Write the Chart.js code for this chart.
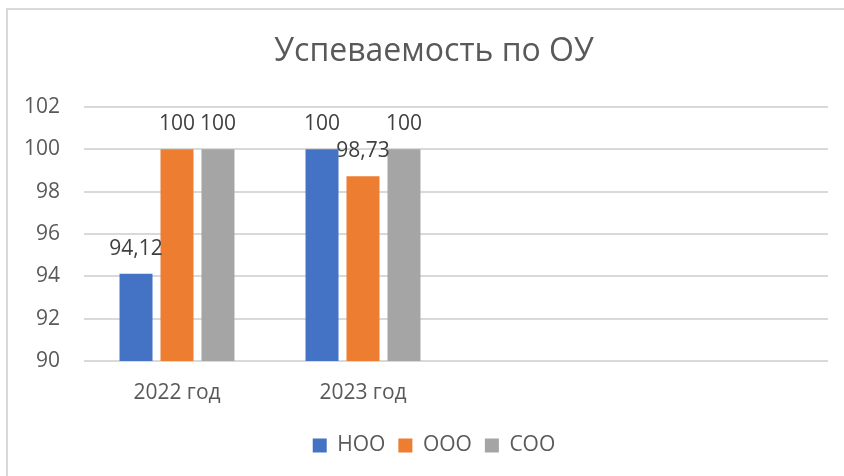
<!DOCTYPE html>
<html>
<head>
<meta charset="utf-8">
<script src="https://cdn.jsdelivr.net/npm/chart.js@4"></script>
<style>
  html, body { margin: 0; padding: 0; background: #fff; }
  #frame { position: absolute; left: 6px; top: 8px; width: 900px; height: 500px; border: 2px solid #d9d9d9; }
  #wrap { position: absolute; left: 0; top: 0; width: 844px; height: 476px; }
</style>
</head>
<body>
<div id="frame"></div>
<div id="wrap"><canvas id="myChart"></canvas></div>
<script>
// data
const categories = ['2022 год', '2023 год', '', ''];
const nooValues = [94.12, 100, null, null];
const oooValues = [100, 98.73, null, null];
const sooValues = [100, 100, null, null];
const yTicks = [90, 92, 94, 96, 98, 100, 102];

const FONT = "'Open Sans', sans-serif";

// value labels above each bar, excel style with decimal comma
const valueLabels = {
    id: 'valueLabels',
    afterDatasetsDraw(chart) {
        const ctx = chart.ctx;
        ctx.save();
        ctx.font = '21px ' + FONT;
        ctx.fillStyle = '#404040';
        ctx.textAlign = 'center';
        ctx.textBaseline = 'middle';
        chart.data.datasets.forEach((ds, i) => {
            chart.getDatasetMeta(i).data.forEach((bar, j) => {
                const v = ds.data[j];
                if (v === null || v === undefined) return;
                ctx.fillText(String(v).replace('.', ','), bar.x, bar.y - 25);
            });
        });
        ctx.restore();
    }
};

const ctx = document.getElementById('myChart');

new Chart(ctx, {
    type: 'bar',
    data: {
        labels: categories,
        datasets: [
            { label: 'НОО', data: nooValues, backgroundColor: '#4472C4' },
            { label: 'ООО', data: oooValues, backgroundColor: '#ED7D31' },
            { label: 'СОО', data: sooValues, backgroundColor: '#A5A5A5' }
        ]
    },
    options: {
        responsive: true,
        maintainAspectRatio: false,
        animation: false,
        categoryPercentage: 0.661,
        barPercentage: 0.805,
        layout: { padding: { top: 0, left: 40, right: 16, bottom: 10 } },
        plugins: {
            tooltip: { enabled: false },
            title: {
                display: true,
                text: 'Успеваемость по ОУ',
                color: '#595959',
                font: { family: FONT, size: 32, weight: 'normal' },
                padding: { top: 33, bottom: 35.6 }
            },
            legend: {
                display: true,
                position: 'bottom',
                labels: {
                    color: '#595959',
                    font: { family: FONT, size: 21 },
                    boxWidth: 14,
                    boxHeight: 14,
                    padding: 13
                }
            }
        },
        scales: {
            x: {
                grid: { display: false },
                border: { display: false },
                ticks: { color: '#595959', font: { family: FONT, size: 21 }, padding: 11, maxRotation: 0 },
                afterFit: axis => { axis.height = 61; }
            },
            y: {
                min: 90,
                max: 102,
                afterBuildTicks: axis => { axis.ticks = yTicks.map(v => ({ value: v })); },
                grid: { color: '#d9d9d9', lineWidth: 2, drawTicks: false },
                border: { display: false },
                ticks: { color: '#595959', font: { family: FONT, size: 21 }, padding: 24 },
                afterFit: axis => {
                    axis.width = 44;
                    // labels are wider than the narrow axis box, so don't clip them
                    axis._computeLabelArea = () => undefined;
                }
            }
        }
    },
    plugins: [valueLabels]
});
</script>
</body>
</html>
